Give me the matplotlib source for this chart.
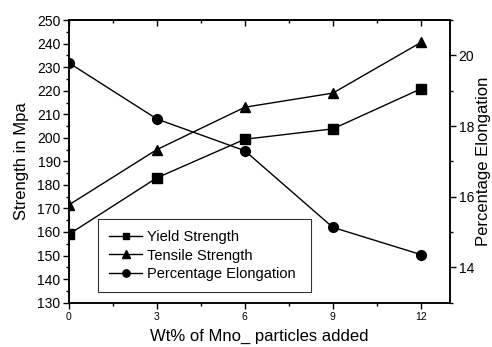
import matplotlib
matplotlib.use("Agg")
import matplotlib.pyplot as plt
from matplotlib.ticker import MultipleLocator

plt.rcParams['font.family'] = ['Liberation Sans', 'DejaVu Sans']

wt = [0, 3, 6, 9, 12]
yield_strength = [159, 183, 199.4, 203.8, 220.8]
tensile_strength = [171.5, 195, 213, 219, 240.5]
elongation = [19.79, 18.2, 17.3, 15.13, 14.36]

fig = plt.figure(figsize=(4.92, 3.47), dpi=100)
ax = fig.add_axes([0.140, 0.128, 0.775, 0.814])
ax2 = ax.twinx()

l1, = ax.plot(wt, yield_strength, '-s', color='black', lw=1.0, ms=6.5, label='Yield Strength')
l2, = ax.plot(wt, tensile_strength, '-^', color='black', lw=1.0, ms=7.5, label='Tensile Strength')
l3, = ax2.plot(wt, elongation, '-o', color='black', lw=1.0, ms=7, label='Percentage Elongation')

ax.set_xlim(0, 13)
ax.set_ylim(130, 250)
ax2.set_ylim(13, 21)

ax.xaxis.set_major_locator(MultipleLocator(3))
ax.xaxis.set_minor_locator(MultipleLocator(1.5))
ax.yaxis.set_major_locator(MultipleLocator(10))
ax.yaxis.set_minor_locator(MultipleLocator(5))
ax2.yaxis.set_major_locator(MultipleLocator(2))
ax2.yaxis.set_minor_locator(MultipleLocator(1))

ax.tick_params(axis='x', which='both', direction='out', top=False, labelsize=7.5, pad=3)
ax.tick_params(axis='x', which='major', length=4, width=1)
ax.tick_params(axis='x', which='minor', length=2.5, width=1)
ax.tick_params(axis='y', which='major', direction='out', length=4, width=1, labelsize=10, pad=2)
ax.tick_params(axis='y', which='minor', direction='out', length=2.5, width=1)
ax2.tick_params(axis='y', which='major', direction='out', length=4, width=1, labelsize=10, pad=2)
ax2.tick_params(axis='y', which='minor', direction='out', length=2.5, width=1)

# top ticks inward
secx = ax.secondary_xaxis('top')
secx.xaxis.set_major_locator(MultipleLocator(3))
secx.xaxis.set_minor_locator(MultipleLocator(1.5))
secx.tick_params(axis='x', which='major', direction='in', length=4, width=1, labeltop=False)
secx.tick_params(axis='x', which='minor', direction='in', length=2.5, width=1)

for a in (ax, ax2):
    for s in a.spines.values():
        s.set_linewidth(1.1)
secx.spines['top'].set_linewidth(1.1)

ax.set_xlabel('Wt% of Mno_ particles added', fontsize=12, labelpad=5)
ax.set_ylabel('Strength in Mpa', fontsize=12, labelpad=6)
ax2.set_ylabel('Percentage Elongation', fontsize=12, labelpad=1)

leg = ax2.legend(handles=[l1, l2, l3], loc='lower left', bbox_to_anchor=(0.076, 0.038, 0.56, 0.255),
                 mode='expand', fontsize=10.5, frameon=True, fancybox=False, borderaxespad=0,
                 handlelength=2.3, handletextpad=0.35, labelspacing=0.3, borderpad=0.75,
                 markerscale=0.75)
leg.get_frame().set_edgecolor('black')
leg.get_frame().set_linewidth(0.8)

fig.savefig('out.png', dpi=100)
